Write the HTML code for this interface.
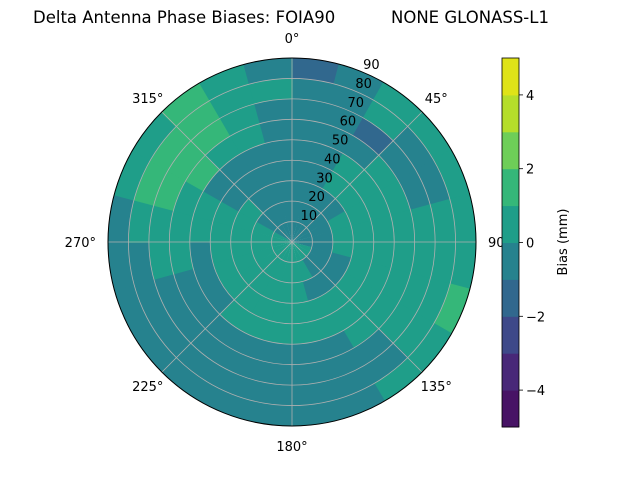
<!DOCTYPE html>
<html><head><meta charset="utf-8"><style>
body{margin:0;background:#fff;}
svg{display:block;font-family:"DejaVu Sans","Liberation Sans",sans-serif;}
</style></head><body>
<svg id="chart" width="640" height="480" viewBox="0 0 640 480">
<text x="33" y="23" font-size="16.5" fill="#000">Delta Antenna Phase Biases: FOIA90</text>
<text x="391" y="23" font-size="16.5" fill="#000">NONE GLONASS-L1</text>
<g id="plot"></g>
<g id="cbar"></g>
</svg>
<script>
const azimuthCenters = [7.5,22.5,37.5,52.5,67.5,82.5,97.5,112.5,127.5,142.5,157.5,172.5,187.5,202.5,217.5,232.5,247.5,262.5,277.5,292.5,307.5,322.5,337.5,352.5];
const zenithCenters = [5,15,25,35,45,55,65,75,85];
const biasValues = [
[-.5,-.5,-.5,-.5,-.5,-.5,-.5,-.5,-1.5],
[-.5,-.5,-.5,-.5,-.5,-.5,-.5,-.5,-.5],
[-.5,-.5,-.5,.5,.5,-.5,-1.5,.5,.5],
[-.5,-.5,-.5,.5,.5,.5,-.5,-.5,.5],
[-.5,-.5,.5,.5,.5,.5,-.5,-.5,.5],
[-.5,-.5,.5,.5,.5,.5,.5,.5,.5],
[-.5,-.5,.5,.5,.5,.5,.5,.5,.5],
[.5,-.5,-.5,.5,.5,.5,.5,.5,1.5],
[.5,-.5,-.5,.5,.5,.5,.5,.5,.5],
[.5,-.5,-.5,.5,.5,.5,-.5,-.5,.5],
[.5,.5,-.5,.5,.5,-.5,-.5,-.5,-.5],
[.5,.5,.5,.5,.5,-.5,-.5,-.5,-.5],
[.5,.5,.5,.5,.5,-.5,-.5,-.5,-.5],
[.5,.5,.5,.5,.5,-.5,-.5,-.5,-.5],
[.5,.5,.5,.5,.5,-.5,-.5,-.5,-.5],
[.5,.5,.5,.5,-.5,-.5,-.5,-.5,-.5],
[.5,.5,.5,.5,-.5,-.5,-.5,-.5,-.5],
[.5,.5,.5,.5,-.5,.5,.5,-.5,-.5],
[.5,.5,.5,.5,.5,.5,.5,.5,-.5],
[.5,.5,.5,.5,.5,.5,1.5,1.5,.5],
[-.5,-.5,.5,-.5,-.5,1.5,1.5,1.5,.5],
[-.5,-.5,-.5,-.5,-.5,.5,1.5,1.5,1.5],
[-.5,-.5,-.5,-.5,-.5,.5,.5,.5,.5],
[-.5,-.5,-.5,-.5,-.5,-.5,-.5,.5,-.5]
];
const levels = [-5,-4,-3,-2,-1,0,1,2,3,4,5];
const levelColors = ["#471365","#482878","#3e4989","#31688e","#26828e","#1f9e89","#35b779","#6ece58","#b5de2b","#dfe318"];
const cbarTicks = [-4,-2,0,2,4];
const angleLabels = [0,45,90,135,180,225,270,315];
const radialTicks = [10,20,30,40,50,60,70,80,90];

const NS="http://www.w3.org/2000/svg";
const cx=292, cy=242, R=184, rMax=90;
const rScale = z => z/rMax*R;
const pt = (az,rad)=>[cx+rad*Math.sin(az*Math.PI/180), cy-rad*Math.cos(az*Math.PI/180)];
function colorFor(v){let i=Math.floor(v-levels[0]);i=Math.max(0,Math.min(levelColors.length-1,i));return levelColors[i];}
const plot=document.getElementById('plot');
function mk(tag,attrs,parent){const e=document.createElementNS(NS,tag);for(const k in attrs)e.setAttribute(k,attrs[k]);parent.appendChild(e);return e;}

const dAz=15, dZ=10;
azimuthCenters.forEach((az,i)=>{
  zenithCenters.forEach((z,j)=>{
    const a0=az-dAz/2-0.3,a1=az+dAz/2+0.3;
    const r0=Math.max(0,rScale(z-dZ/2)-0.3), r1=rScale(z+dZ/2)+0.3;
    const p1=pt(a0,r1),p2=pt(a1,r1),p3=pt(a1,r0),p4=pt(a0,r0);
    const d=`M${p1[0]},${p1[1]} A${r1},${r1} 0 0 1 ${p2[0]},${p2[1]} L${p3[0]},${p3[1]} A${r0},${r0} 0 0 0 ${p4[0]},${p4[1]} Z`;
    const el=mk('path',{d:d,fill:colorFor(biasValues[i][j]),stroke:'none'},plot);
    
    
  });
});
const ring=mk('circle',{cx:cx,cy:cy,r:R+3,fill:'none',stroke:'#fff','stroke-width':5},plot);


radialTicks.slice(0,-1).forEach(t=>{
  const c=mk('circle',{cx:cx,cy:cy,r:rScale(t),fill:'none',stroke:'#b0b0b0','stroke-width':0.8},plot);
  
  
});
angleLabels.forEach(a=>{
  const p=pt(a,R);
  const l=mk('line',{x1:cx,y1:cy,x2:p[0],y2:p[1],stroke:'#b0b0b0','stroke-width':0.8},plot);
  
  
});
const border=mk('circle',{cx:cx,cy:cy,r:R,fill:'none',stroke:'#000','stroke-width':1},plot);


angleLabels.forEach(a=>{
  const p=pt(a,R+20);
  let anchor='middle',dx=0;
  if(a===90){anchor='start';dx=-8;} if(a===270){anchor='end';dx=8;}
  const t=mk('text',{x:p[0]+dx,y:p[1]+5,'font-size':13,'text-anchor':anchor,fill:'#000'},plot);
  t.textContent=a+'°';
  
  
});
radialTicks.forEach(r=>{
  const p=pt(22.5,rScale(r));
  const t=mk('text',{x:p[0]+9,y:p[1]-3,'font-size':13,'text-anchor':'middle',fill:'#000'},plot);
  t.textContent=r;
  
  
});
const cb=document.getElementById('cbar');
const cbX=502,cbW=17,cbTop=58,cbBot=427;
const cbY=v=>cbBot-(v-levels[0])/(levels[levels.length-1]-levels[0])*(cbBot-cbTop);
levelColors.forEach((c,i)=>{
  const y1=cbY(levels[i+1]),y0=cbY(levels[i]);
  const r=mk('rect',{x:cbX,y:y1,width:cbW,height:y0-y1+0.5,fill:c},cb);
  
  
});
const cbf=mk('rect',{x:cbX,y:cbTop,width:cbW,height:cbBot-cbTop,fill:'none',stroke:'#000','stroke-width':0.8},cb);


cbarTicks.forEach(v=>{
  const y=cbY(v);
  const l=mk('line',{x1:cbX+cbW,y1:y,x2:cbX+cbW+4,y2:y,stroke:'#000','stroke-width':0.8},cb);
  
  
  const t=mk('text',{x:cbX+cbW+7,y:y+5,'font-size':13,fill:'#000'},cb);
  t.textContent=v<0?'\u2212'+Math.abs(v):String(v);
  
  
});
const ct=mk('text',{x:567,y:242,'font-size':13,'text-anchor':'middle',transform:'rotate(-90 567 242)',fill:'#000'},cb);
ct.textContent='Bias (mm)';


</script>
</body></html>
